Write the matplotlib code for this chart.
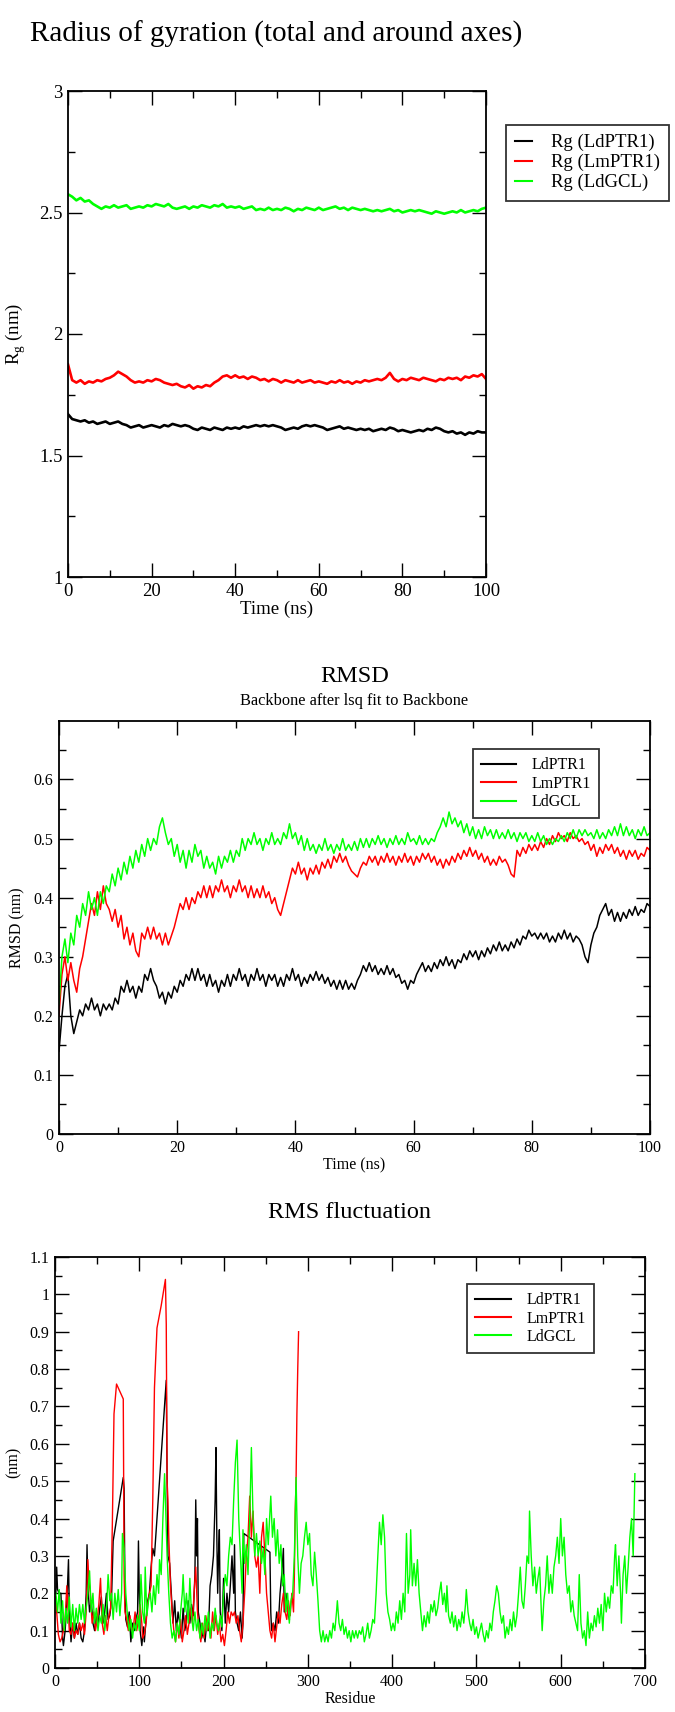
import matplotlib
matplotlib.use("Agg")
import matplotlib.pyplot as plt
import numpy as np
from matplotlib.ticker import MultipleLocator

plt.rcParams['font.family'] = ['Liberation Serif', 'DejaVu Serif']
plt.rcParams['mathtext.fontset'] = 'custom'
plt.rcParams['mathtext.rm'] = 'Liberation Serif'

# ---- radius of gyration, 1 ns steps (nm)
rg_time = np.arange(0, 101, 1)
rg_ldptr1 = [1.67, 1.65, 1.645, 1.64, 1.645, 1.635, 1.64, 1.63, 1.635, 1.64,
             1.63, 1.635, 1.64, 1.63, 1.625, 1.615, 1.62, 1.625, 1.615, 1.62,
             1.625, 1.62, 1.615, 1.625, 1.62, 1.63, 1.625, 1.62, 1.625, 1.62,
             1.61, 1.605, 1.615, 1.61, 1.605, 1.615, 1.61, 1.605, 1.615, 1.61,
             1.615, 1.61, 1.62, 1.615, 1.62, 1.625, 1.62, 1.625, 1.62, 1.625,
             1.62, 1.615, 1.605, 1.61, 1.615, 1.61, 1.62, 1.625, 1.62, 1.625,
             1.62, 1.615, 1.605, 1.61, 1.615, 1.62, 1.61, 1.615, 1.61, 1.605,
             1.61, 1.605, 1.61, 1.6, 1.605, 1.61, 1.605, 1.615, 1.61, 1.6,
             1.605, 1.6, 1.595, 1.6, 1.605, 1.6, 1.61, 1.605, 1.615, 1.61,
             1.6, 1.595, 1.6, 1.59, 1.595, 1.585, 1.595, 1.59, 1.6, 1.595, 1.595]
rg_lmptr1 = [1.875, 1.81, 1.8, 1.81, 1.795, 1.805, 1.8, 1.81, 1.805, 1.815,
             1.82, 1.83, 1.845, 1.835, 1.825, 1.81, 1.8, 1.805, 1.8, 1.81,
             1.805, 1.815, 1.81, 1.8, 1.795, 1.79, 1.795, 1.785, 1.78, 1.79,
             1.775, 1.785, 1.78, 1.79, 1.785, 1.8, 1.81, 1.825, 1.83, 1.82,
             1.83, 1.82, 1.825, 1.815, 1.825, 1.82, 1.81, 1.815, 1.805, 1.815,
             1.81, 1.8, 1.81, 1.805, 1.8, 1.81, 1.8, 1.805, 1.81, 1.8,
             1.805, 1.8, 1.795, 1.805, 1.8, 1.81, 1.8, 1.805, 1.795, 1.805,
             1.8, 1.81, 1.805, 1.81, 1.815, 1.81, 1.82, 1.84, 1.815, 1.805,
             1.815, 1.81, 1.82, 1.815, 1.81, 1.82, 1.815, 1.81, 1.805, 1.815,
             1.81, 1.82, 1.815, 1.82, 1.81, 1.825, 1.82, 1.83, 1.825, 1.835, 1.815]
rg_ldgcl = [2.575, 2.565, 2.55, 2.56, 2.545, 2.55, 2.535, 2.525, 2.515, 2.525,
            2.52, 2.53, 2.52, 2.525, 2.53, 2.515, 2.52, 2.525, 2.52, 2.53,
            2.525, 2.535, 2.53, 2.525, 2.535, 2.52, 2.515, 2.52, 2.525, 2.515,
            2.525, 2.52, 2.53, 2.525, 2.52, 2.53, 2.525, 2.535, 2.52, 2.525,
            2.52, 2.525, 2.515, 2.52, 2.525, 2.51, 2.515, 2.51, 2.52, 2.51,
            2.515, 2.51, 2.52, 2.515, 2.505, 2.515, 2.51, 2.52, 2.515, 2.51,
            2.52, 2.51, 2.515, 2.52, 2.525, 2.515, 2.52, 2.51, 2.52, 2.515,
            2.51, 2.515, 2.51, 2.505, 2.51, 2.505, 2.51, 2.515, 2.505, 2.51,
            2.5, 2.505, 2.51, 2.505, 2.51, 2.505, 2.5, 2.495, 2.505, 2.5,
            2.495, 2.5, 2.505, 2.5, 2.51, 2.5, 2.505, 2.51, 2.505, 2.515, 2.52]

# ---- backbone RMSD, 0.5 ns steps (nm)
rmsd_time = np.arange(0, 100.5, 0.5)
rmsd_ldptr1 = [0.14, 0.2, 0.25, 0.27, 0.2, 0.17, 0.19, 0.21, 0.2, 0.22,
               0.21, 0.23, 0.21, 0.22, 0.2, 0.22, 0.21, 0.22, 0.21, 0.23,
               0.22, 0.25, 0.24, 0.26, 0.24, 0.25, 0.23, 0.25, 0.24, 0.27,
               0.26, 0.28, 0.26, 0.25, 0.23, 0.24, 0.22, 0.24, 0.23, 0.25,
               0.24, 0.26, 0.25, 0.27, 0.26, 0.28, 0.26, 0.28, 0.26, 0.27,
               0.25, 0.27, 0.25, 0.26, 0.24, 0.26, 0.25, 0.27, 0.25, 0.27,
               0.26, 0.28, 0.26, 0.27, 0.25, 0.27, 0.26, 0.28, 0.26, 0.27,
               0.25, 0.27, 0.26, 0.27, 0.25, 0.265, 0.25, 0.27, 0.26, 0.28,
               0.26, 0.27, 0.25, 0.265, 0.255, 0.27, 0.26, 0.275, 0.26, 0.27,
               0.255, 0.265, 0.25, 0.26, 0.245, 0.26, 0.245, 0.26, 0.245, 0.255,
               0.245, 0.26, 0.27, 0.285, 0.275, 0.29, 0.275, 0.285, 0.27, 0.28,
               0.27, 0.285, 0.27, 0.28, 0.265, 0.27, 0.255, 0.26, 0.245, 0.26,
               0.255, 0.27, 0.28, 0.29, 0.275, 0.285, 0.275, 0.29, 0.28, 0.295,
               0.285, 0.3, 0.285, 0.295, 0.28, 0.295, 0.29, 0.305, 0.295, 0.31,
               0.3, 0.31, 0.295, 0.31, 0.3, 0.315, 0.305, 0.32, 0.31, 0.325,
               0.31, 0.32, 0.31, 0.325, 0.315, 0.33, 0.32, 0.335, 0.33, 0.345,
               0.335, 0.34, 0.33, 0.34, 0.33, 0.34, 0.325, 0.335, 0.325, 0.34,
               0.33, 0.345, 0.33, 0.34, 0.325, 0.335, 0.33, 0.32, 0.3, 0.29,
               0.32, 0.34, 0.35, 0.37, 0.38, 0.39, 0.37, 0.38, 0.36, 0.375,
               0.36, 0.375, 0.365, 0.38, 0.37, 0.385, 0.37, 0.38, 0.375, 0.39,
               0.385]
rmsd_lmptr1 = [0.2, 0.27, 0.3, 0.26, 0.29, 0.26, 0.24, 0.28, 0.3, 0.33,
               0.36, 0.39, 0.37, 0.41, 0.38, 0.42, 0.39, 0.38, 0.36, 0.38,
               0.35, 0.37, 0.33, 0.35, 0.32, 0.34, 0.31, 0.3, 0.34, 0.33,
               0.35, 0.33, 0.35, 0.33, 0.34, 0.32, 0.34, 0.32, 0.335, 0.35,
               0.37, 0.39, 0.38, 0.4, 0.38, 0.4, 0.39, 0.41, 0.4, 0.42,
               0.4, 0.42, 0.4, 0.42, 0.41, 0.43, 0.41, 0.42, 0.4, 0.42,
               0.41, 0.43, 0.41, 0.42, 0.4, 0.42, 0.4, 0.415, 0.4, 0.42,
               0.4, 0.41, 0.39, 0.4, 0.38, 0.37, 0.39, 0.41, 0.43, 0.45,
               0.44, 0.46, 0.44, 0.45, 0.43, 0.45, 0.44, 0.455, 0.44, 0.46,
               0.45, 0.465, 0.45, 0.47, 0.46, 0.475, 0.46, 0.47, 0.455, 0.445,
               0.44, 0.435, 0.45, 0.46, 0.455, 0.47, 0.46, 0.47, 0.455, 0.47,
               0.46, 0.475, 0.46, 0.47, 0.455, 0.47, 0.46, 0.475, 0.46, 0.47,
               0.455, 0.47, 0.46, 0.475, 0.465, 0.475, 0.46, 0.47, 0.455, 0.465,
               0.45, 0.465, 0.455, 0.47, 0.46, 0.475, 0.465, 0.48, 0.47, 0.485,
               0.47, 0.48, 0.465, 0.475, 0.46, 0.47, 0.455, 0.465, 0.455, 0.47,
               0.46, 0.465, 0.455, 0.44, 0.435, 0.48, 0.47, 0.485, 0.475, 0.49,
               0.48, 0.49, 0.48, 0.495, 0.485, 0.5, 0.49, 0.505, 0.495, 0.51,
               0.5, 0.505, 0.495, 0.51, 0.5, 0.505, 0.495, 0.5, 0.49, 0.495,
               0.48, 0.49, 0.47, 0.485, 0.475, 0.49, 0.48, 0.49, 0.475, 0.485,
               0.47, 0.48, 0.465, 0.48, 0.47, 0.48, 0.465, 0.475, 0.47, 0.485,
               0.48]
rmsd_ldgcl = [0.22, 0.3, 0.33, 0.29, 0.34, 0.32, 0.37, 0.35, 0.39, 0.37,
              0.41, 0.38, 0.4, 0.37, 0.41, 0.39, 0.42, 0.41, 0.44, 0.42,
              0.45, 0.43, 0.46, 0.44, 0.47, 0.45, 0.48, 0.46, 0.49, 0.47,
              0.5, 0.48, 0.5, 0.49, 0.52, 0.535, 0.51, 0.49, 0.5, 0.47,
              0.49, 0.46, 0.48, 0.45, 0.48, 0.46, 0.49, 0.47, 0.48, 0.45,
              0.47, 0.45, 0.46, 0.44, 0.47, 0.45, 0.47, 0.46, 0.48, 0.46,
              0.48, 0.47, 0.5, 0.48, 0.5, 0.49, 0.51, 0.49, 0.5, 0.48,
              0.5, 0.49, 0.51, 0.49, 0.5, 0.49, 0.51, 0.5, 0.525, 0.5,
              0.51, 0.49, 0.505, 0.48, 0.5, 0.48, 0.49, 0.475, 0.49, 0.48,
              0.5, 0.48, 0.49, 0.475, 0.49, 0.48, 0.5, 0.48, 0.49, 0.48,
              0.495, 0.48, 0.5, 0.485, 0.5, 0.485, 0.5, 0.49, 0.505, 0.49,
              0.5, 0.485, 0.5, 0.49, 0.505, 0.49, 0.5, 0.49, 0.51, 0.495,
              0.5, 0.49, 0.505, 0.49, 0.5, 0.49, 0.5, 0.495, 0.51, 0.52,
              0.535, 0.52, 0.545, 0.525, 0.535, 0.52, 0.53, 0.51, 0.525, 0.505,
              0.52, 0.5, 0.515, 0.5, 0.52, 0.505, 0.515, 0.5, 0.515, 0.5,
              0.51, 0.5, 0.515, 0.5, 0.51, 0.495, 0.51, 0.5, 0.51, 0.495,
              0.505, 0.495, 0.51, 0.495, 0.505, 0.49, 0.5, 0.49, 0.5, 0.495,
              0.505, 0.495, 0.51, 0.5, 0.515, 0.5, 0.515, 0.505, 0.515, 0.505,
              0.51, 0.5, 0.515, 0.5, 0.51, 0.5, 0.515, 0.505, 0.52, 0.505,
              0.525, 0.505, 0.52, 0.505, 0.515, 0.5, 0.515, 0.505, 0.52, 0.505,
              0.51]

# ---- RMS fluctuation per residue (nm), (residue, value)
rmsf_ldptr1 = [(1, 0.2), (2, 0.27), (3, 0.21), (5, 0.2), (7, 0.2), (9, 0.08), (10, 0.06),
               (12, 0.1), (14, 0.17), (16, 0.29), (17, 0.15), (19, 0.07), (21, 0.12),
               (23, 0.08), (25, 0.12), (27, 0.09), (29, 0.12), (31, 0.08), (33, 0.07),
               (35, 0.1), (37, 0.2), (38, 0.33), (39, 0.22), (41, 0.15), (43, 0.18),
               (45, 0.12), (47, 0.1), (49, 0.14), (51, 0.11), (53, 0.16), (55, 0.19),
               (57, 0.12), (59, 0.15), (61, 0.2), (63, 0.13), (65, 0.14), (67, 0.18),
               (69, 0.34), (81, 0.51), (82, 0.48), (83, 0.2), (84, 0.13), (86, 0.11),
               (88, 0.15), (90, 0.07), (92, 0.12), (94, 0.1), (96, 0.13), (98, 0.15),
               (99, 0.34), (100, 0.2), (101, 0.1), (103, 0.06), (105, 0.11), (106, 0.07),
               (108, 0.13), (110, 0.18), (112, 0.2), (114, 0.27), (116, 0.32), (118, 0.3),
               (132, 0.77), (133, 0.51), (134, 0.3), (136, 0.28), (138, 0.2), (140, 0.12),
               (142, 0.18), (144, 0.1), (146, 0.15), (148, 0.12), (150, 0.08), (152, 0.16),
               (154, 0.1), (156, 0.13), (158, 0.18), (160, 0.12), (162, 0.17), (164, 0.14),
               (166, 0.25), (167, 0.45), (168, 0.3), (169, 0.4), (170, 0.15), (172, 0.12),
               (174, 0.08), (176, 0.1), (178, 0.07), (180, 0.12), (182, 0.1), (184, 0.22),
               (186, 0.25), (188, 0.3), (190, 0.45), (191, 0.59), (192, 0.35), (193, 0.2),
               (194, 0.3), (195, 0.37), (196, 0.15), (198, 0.1), (200, 0.24), (202, 0.12),
               (204, 0.2), (206, 0.15), (208, 0.22), (210, 0.3), (212, 0.2), (213, 0.33),
               (214, 0.15), (216, 0.12), (218, 0.1), (220, 0.15), (222, 0.08), (223, 0.12),
               (224, 0.36), (255, 0.31), (256, 0.15), (257, 0.1), (259, 0.12), (261, 0.1),
               (263, 0.15), (265, 0.12), (267, 0.2), (269, 0.25), (271, 0.32), (272, 0.15),
               (274, 0.2), (276, 0.15), (278, 0.13)]
rmsf_lmptr1 = [(1, 0.19), (2, 0.15), (4, 0.09), (6, 0.07), (8, 0.08), (10, 0.1), (12, 0.13),
               (14, 0.22), (15, 0.18), (17, 0.1), (19, 0.09), (21, 0.12), (23, 0.08),
               (25, 0.1), (27, 0.09), (29, 0.12), (31, 0.1), (33, 0.12), (35, 0.09),
               (37, 0.15), (39, 0.29), (40, 0.24), (42, 0.2), (44, 0.12), (46, 0.15),
               (48, 0.1), (50, 0.13), (52, 0.17), (54, 0.24), (56, 0.12), (58, 0.09),
               (60, 0.14), (62, 0.1), (64, 0.14), (66, 0.16), (68, 0.38), (70, 0.68),
               (73, 0.76), (81, 0.72), (82, 0.25), (83, 0.15), (85, 0.13), (87, 0.1),
               (89, 0.14), (91, 0.1), (93, 0.11), (95, 0.15), (97, 0.1), (99, 0.13),
               (101, 0.17), (103, 0.12), (104, 0.08), (106, 0.09), (108, 0.12), (110, 0.17),
               (112, 0.2), (114, 0.22), (116, 0.45), (118, 0.75), (121, 0.91), (126, 0.97),
               (131, 1.04), (132, 0.92), (133, 0.5), (134, 0.45), (135, 0.35), (137, 0.22),
               (139, 0.15), (141, 0.1), (143, 0.07), (145, 0.12), (147, 0.08), (149, 0.13),
               (151, 0.07), (153, 0.1), (155, 0.14), (157, 0.09), (159, 0.12), (161, 0.16),
               (163, 0.12), (165, 0.2), (167, 0.27), (169, 0.15), (171, 0.1), (173, 0.07),
               (175, 0.12), (177, 0.08), (179, 0.14), (181, 0.1), (183, 0.12), (185, 0.08),
               (187, 0.15), (189, 0.1), (191, 0.14), (193, 0.09), (195, 0.12), (197, 0.07),
               (199, 0.09), (201, 0.06), (203, 0.1), (205, 0.15), (207, 0.12), (209, 0.15),
               (211, 0.14), (213, 0.15), (215, 0.12), (217, 0.14), (219, 0.1), (221, 0.07),
               (223, 0.12), (225, 0.2), (227, 0.3), (229, 0.35), (231, 0.46), (233, 0.35),
               (235, 0.42), (237, 0.3), (239, 0.27), (241, 0.3), (243, 0.2), (245, 0.35),
               (247, 0.39), (249, 0.3), (251, 0.2), (253, 0.15), (255, 0.1), (257, 0.08),
               (259, 0.12), (261, 0.07), (263, 0.11), (265, 0.15), (267, 0.12), (269, 0.17),
               (271, 0.2), (273, 0.15), (275, 0.13), (277, 0.18), (279, 0.14), (281, 0.2),
               (283, 0.15), (284, 0.25), (285, 0.42), (286, 0.5), (287, 0.68), (288, 0.8),
               (289, 0.9)]
rmsf_ldgcl = [(1, 0.2), (3, 0.15), (5, 0.21), (7, 0.12), (9, 0.18), (11, 0.1), (13, 0.16),
              (15, 0.12), (17, 0.19), (19, 0.11), (21, 0.17), (23, 0.1), (25, 0.16),
              (27, 0.12), (29, 0.17), (31, 0.13), (33, 0.17), (35, 0.12), (37, 0.16),
              (39, 0.2), (41, 0.26), (43, 0.15), (45, 0.2), (47, 0.12), (49, 0.16),
              (51, 0.1), (53, 0.14), (55, 0.12), (57, 0.17), (59, 0.1), (61, 0.15),
              (63, 0.25), (65, 0.18), (67, 0.2), (69, 0.13), (71, 0.2), (73, 0.15),
              (75, 0.21), (77, 0.14), (79, 0.2), (80, 0.36), (82, 0.32), (84, 0.2),
              (86, 0.14), (88, 0.1), (90, 0.13), (92, 0.08), (94, 0.12), (96, 0.1),
              (98, 0.14), (100, 0.1), (102, 0.25), (104, 0.15), (106, 0.12), (107, 0.27),
              (109, 0.14), (111, 0.18), (113, 0.2), (115, 0.15), (117, 0.22), (119, 0.17),
              (121, 0.25), (123, 0.2), (124, 0.29), (126, 0.25), (128, 0.4), (130, 0.52),
              (131, 0.45), (133, 0.3), (135, 0.2), (137, 0.12), (139, 0.08), (141, 0.1),
              (143, 0.07), (145, 0.12), (147, 0.09), (149, 0.15), (151, 0.2), (152, 0.25),
              (154, 0.15), (156, 0.2), (158, 0.12), (160, 0.24), (162, 0.14), (164, 0.1),
              (166, 0.15), (168, 0.1), (170, 0.13), (172, 0.08), (174, 0.12), (176, 0.09),
              (178, 0.14), (180, 0.1), (182, 0.15), (184, 0.08), (186, 0.12), (188, 0.1),
              (190, 0.16), (192, 0.12), (194, 0.1), (196, 0.14), (198, 0.11), (200, 0.2),
              (202, 0.25), (204, 0.22), (206, 0.3), (208, 0.35), (210, 0.33), (212, 0.45),
              (214, 0.55), (216, 0.61), (218, 0.4), (220, 0.3), (222, 0.2), (223, 0.37),
              (225, 0.28), (227, 0.33), (229, 0.25), (231, 0.4), (233, 0.59), (235, 0.4),
              (237, 0.3), (239, 0.36), (241, 0.3), (243, 0.34), (245, 0.28), (247, 0.32),
              (249, 0.25), (251, 0.4), (253, 0.33), (256, 0.46), (258, 0.35), (260, 0.4),
              (262, 0.3), (264, 0.37), (266, 0.28), (268, 0.33), (270, 0.22), (272, 0.25),
              (274, 0.15), (276, 0.2), (278, 0.12), (280, 0.18), (282, 0.2), (284, 0.3),
              (286, 0.51), (288, 0.3), (290, 0.2), (292, 0.28), (294, 0.3), (296, 0.35),
              (298, 0.39), (300, 0.33), (302, 0.36), (304, 0.25), (306, 0.22), (308, 0.31),
              (310, 0.25), (312, 0.18), (314, 0.1), (316, 0.07), (318, 0.1), (320, 0.07),
              (322, 0.09), (324, 0.07), (326, 0.1), (328, 0.08), (330, 0.12), (332, 0.1),
              (334, 0.15), (335, 0.18), (337, 0.12), (339, 0.1), (341, 0.13), (343, 0.09),
              (345, 0.11), (347, 0.08), (349, 0.1), (351, 0.07), (353, 0.1), (355, 0.08),
              (357, 0.1), (359, 0.08), (361, 0.1), (363, 0.09), (365, 0.11), (367, 0.07),
              (369, 0.09), (371, 0.12), (373, 0.08), (375, 0.1), (377, 0.13), (379, 0.12),
              (381, 0.2), (383, 0.3), (385, 0.39), (387, 0.33), (389, 0.41), (391, 0.35),
              (393, 0.2), (395, 0.15), (397, 0.13), (399, 0.1), (401, 0.12), (403, 0.1),
              (405, 0.15), (407, 0.12), (409, 0.18), (411, 0.13), (413, 0.2), (415, 0.15),
              (417, 0.36), (419, 0.2), (421, 0.25), (422, 0.37), (424, 0.22), (426, 0.28),
              (428, 0.22), (430, 0.29), (432, 0.2), (434, 0.15), (436, 0.1), (438, 0.14),
              (440, 0.11), (442, 0.15), (444, 0.12), (446, 0.17), (448, 0.15), (450, 0.18),
              (452, 0.14), (454, 0.16), (456, 0.2), (458, 0.23), (460, 0.17), (462, 0.2),
              (464, 0.15), (465, 0.22), (467, 0.14), (469, 0.12), (471, 0.15), (473, 0.11),
              (475, 0.14), (477, 0.1), (479, 0.13), (481, 0.11), (483, 0.15), (485, 0.12),
              (487, 0.17), (488, 0.21), (490, 0.15), (492, 0.12), (494, 0.1), (496, 0.13),
              (498, 0.09), (500, 0.11), (502, 0.08), (504, 0.1), (506, 0.12), (508, 0.09),
              (510, 0.07), (512, 0.1), (514, 0.08), (516, 0.12), (518, 0.1), (520, 0.15),
              (522, 0.18), (524, 0.22), (526, 0.2), (528, 0.15), (530, 0.12), (532, 0.14),
              (534, 0.08), (536, 0.11), (538, 0.09), (540, 0.13), (542, 0.1), (544, 0.15),
              (546, 0.11), (548, 0.14), (550, 0.2), (552, 0.27), (554, 0.18), (556, 0.16),
              (558, 0.22), (560, 0.3), (562, 0.28), (563, 0.42), (565, 0.3), (567, 0.22),
              (569, 0.27), (571, 0.2), (573, 0.24), (575, 0.27), (577, 0.15), (578, 0.1),
              (580, 0.18), (582, 0.22), (584, 0.3), (586, 0.2), (588, 0.25), (590, 0.2),
              (592, 0.27), (594, 0.3), (596, 0.35), (598, 0.28), (600, 0.4), (602, 0.3),
              (604, 0.35), (606, 0.25), (608, 0.2), (610, 0.22), (612, 0.15), (614, 0.18),
              (616, 0.14), (618, 0.12), (620, 0.1), (622, 0.25), (624, 0.12), (626, 0.08),
              (628, 0.1), (630, 0.06), (632, 0.15), (634, 0.08), (636, 0.12), (638, 0.1),
              (640, 0.14), (642, 0.11), (644, 0.16), (646, 0.12), (648, 0.17), (650, 0.1),
              (652, 0.2), (654, 0.15), (656, 0.19), (658, 0.16), (660, 0.22), (662, 0.2),
              (664, 0.3), (665, 0.33), (667, 0.22), (669, 0.3), (671, 0.2), (672, 0.12),
              (674, 0.25), (676, 0.3), (678, 0.2), (680, 0.27), (682, 0.35), (684, 0.4),
              (686, 0.3), (688, 0.52)]

colors = ['black', '#ff0000', '#00ff00']

W, H = 675, 1712
fig = plt.figure(figsize=(W / 100, H / 100), dpi=100)


def px_axes(left, top, right, bottom):
    # pixel box -> figure fraction
    return fig.add_axes([left / W, 1 - bottom / H, (right - left) / W, (bottom - top) / H])


def grace_style(ax, fs, major, minor):
    ax.tick_params(which='both', direction='in', top=True, right=True, labelsize=fs, pad=4)
    ax.tick_params(which='major', length=10, width=1)
    ax.tick_params(which='minor', length=5, width=1)
    ax.xaxis.set_major_locator(MultipleLocator(major[0]))
    ax.xaxis.set_minor_locator(MultipleLocator(minor[0]))
    ax.yaxis.set_major_locator(MultipleLocator(major[1]))
    ax.yaxis.set_minor_locator(MultipleLocator(minor[1]))
    for s in ax.spines.values():
        s.set_linewidth(1.3)
    ax.yaxis.set_major_formatter(plt.FuncFormatter(lambda v, p: f"{v:g}"))
    ax.xaxis.set_major_formatter(plt.FuncFormatter(lambda v, p: f"{v:g}"))


def legend(ax, labels, x, y, fs, hl):
    lg = ax.legend(labels, loc='upper left', bbox_to_anchor=(x, y), borderaxespad=0,
                   fontsize=fs, frameon=True, fancybox=False, handlelength=hl,
                   handletextpad=1.0, labelspacing=0.15, borderpad=0.5)
    lg.get_frame().set_edgecolor('black')
    lg.get_frame().set_linewidth(1.3)
    for ln in lg.get_lines():
        ln.set_linewidth(1.5)


# ---- panel 1: radius of gyration
ax1 = px_axes(68, 91, 486, 577)
for ys, c in zip([rg_ldptr1, rg_lmptr1, rg_ldgcl], colors):
    ax1.plot(rg_time, ys, color=c, lw=1.9)
ax1.set_xlim(0, 100)
ax1.set_ylim(1, 3)
grace_style(ax1, 13.5, (20, 0.5), (10, 0.25))
ax1.set_xlabel('Time (ns)', fontsize=13.5, labelpad=1)
ax1.set_ylabel(r'R$_\mathregular{g}$ (nm)', fontsize=13.5, labelpad=8)
legend(ax1, ['Rg (LdPTR1)', 'Rg (LmPTR1)', 'Rg (LdGCL)'], 1.047, 0.931, 13.5, 0.9)
fig.text(30 / W, 1 - 34 / H, 'Radius of gyration (total and around axes)',
         fontsize=21, ha='left', va='center')

# ---- panel 2: RMSD
ax2 = px_axes(59, 721, 650, 1134)
for ys, c in zip([rmsd_ldptr1, rmsd_lmptr1, rmsd_ldgcl], colors):
    ax2.plot(rmsd_time, ys, color=c, lw=1.1)
ax2.set_xlim(0, 100)
ax2.set_ylim(0, 0.699)
grace_style(ax2, 11.5, (20, 0.1), (10, 0.05))
ax2.set_xlabel('Time (ns)', fontsize=11.5, labelpad=1)
ax2.set_ylabel('RMSD (nm)', fontsize=11.5, labelpad=6)
legend(ax2, ['LdPTR1', 'LmPTR1', 'LdGCL'], 0.70, 0.931, 11.5, 2.2)
fig.text(354.5 / W, 1 - 677 / H, 'RMSD', fontsize=17.5, ha='center', va='center')
fig.text(354.5 / W, 1 - 701 / H, 'Backbone after lsq fit to Backbone',
         fontsize=11.8, ha='center', va='center')

# ---- panel 3: RMSF
ax3 = px_axes(55, 1257, 645, 1668)
for data, c in zip([rmsf_ldptr1, rmsf_lmptr1, rmsf_ldgcl], colors):
    res, val = zip(*data)
    ax3.plot(res, val, color=c, lw=1.0)
ax3.set_xlim(0, 700)
ax3.set_ylim(0, 1.1)
grace_style(ax3, 11.5, (100, 0.1), (50, 0.05))
ax3.set_xlabel('Residue', fontsize=11.5, labelpad=1)
ax3.set_ylabel('(nm)', fontsize=11.5, labelpad=6)
legend(ax3, ['LdPTR1', 'LmPTR1', 'LdGCL'], 0.699, 0.934, 11.5, 2.2)
fig.text(350 / W, 1 - 1212 / H, 'RMS fluctuation', fontsize=17.5, ha='center', va='center')

fig.savefig('out.png', dpi=100)
